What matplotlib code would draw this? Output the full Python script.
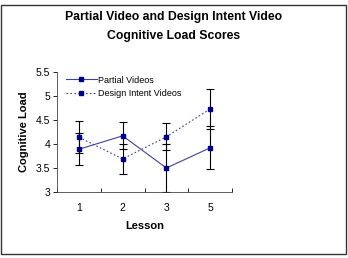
import matplotlib
matplotlib.use("Agg")
import matplotlib.pyplot as plt
from matplotlib.patches import Rectangle
from matplotlib.lines import Line2D
import numpy as np

plt.rcParams['font.family'] = ['Liberation Sans', 'DejaVu Sans']

lessons = ["1", "2", "3", "5"]
partial = [3.89, 4.17, 3.50, 3.92]
partial_err = [0.33, 0.28, 0.49, 0.45]
design = [4.14, 3.69, 4.15, 4.73]
design_err = [0.33, 0.32, 0.28, 0.42]
yticks = [3, 3.5, 4, 4.5, 5, 5.5]

W, H = 348, 258
fig = plt.figure(figsize=(W/100, H/100), dpi=100)
ax = fig.add_axes([57/W, 1-192/H, 175/W, 120/H])

x = np.arange(len(lessons))
line_col = "#4040a0"
mk_col = "#000080"
dot = (0, (1.5, 2))
ax.errorbar(x, partial, yerr=partial_err, color=line_col, lw=0.8, ls='-',
            marker='s', ms=3.5, mfc=mk_col, mec=mk_col,
            ecolor='black', elinewidth=0.8, capsize=3, capthick=0.8)
ax.errorbar(x, design, yerr=design_err, color=line_col, lw=0.8, ls=dot,
            marker='s', ms=3.5, mfc=mk_col, mec=mk_col,
            ecolor='black', elinewidth=0.8, capsize=3, capthick=0.8)

ax.set_xlim(-0.5, len(lessons)-0.5)
ax.set_ylim(3, 5.5)
ax.set_yticks(yticks)
ax.set_yticklabels([f"{v:g}" for v in yticks], fontsize=7.5)
ax.set_xticks(x)
ax.set_xticklabels(lessons, fontsize=7.5)
ax.set_xticks(np.arange(len(lessons)+1)-0.5, minor=True)
ax.tick_params(axis='x', which='major', length=0, pad=8)
ax.tick_params(axis='x', which='minor', length=3, direction='in', width=0.6)
ax.tick_params(axis='y', length=3, direction='out', width=0.6, pad=2)
for s in ['top', 'right']:
    ax.spines[s].set_visible(False)
for s in ['left', 'bottom']:
    ax.spines[s].set_linewidth(0.6)
    ax.spines[s].set_color('#444444')

ax.set_ylabel("Cognitive Load", fontsize=8, fontweight='bold', labelpad=5)
ax.set_xlabel("Lesson", fontsize=8, fontweight='bold', labelpad=6)

handles = [
    Line2D([], [], color=line_col, lw=0.8, ls='-', marker='s', ms=3.5, mfc=mk_col, mec=mk_col),
    Line2D([], [], color=line_col, lw=0.8, ls=dot, marker='s', ms=3.5, mfc=mk_col, mec=mk_col),
]
ax.legend(handles, ["Partial Videos", "Design Intent Videos"],
          loc='upper left', bbox_to_anchor=(0.03, 1.0), frameon=False,
          fontsize=6.5, handlelength=3.4, handletextpad=0.2,
          labelspacing=0.45, borderaxespad=0)

fig.text(0.5, 1-17/H, "Partial Video and Design Intent Video",
         ha='center', va='center', fontsize=8.8, fontweight='bold')
fig.text(0.5, 1-36/H, "Cognitive Load Scores",
         ha='center', va='center', fontsize=8.8, fontweight='bold')

fig.patches.append(Rectangle((1/W, 1-254/H), 345/W, 249/H, transform=fig.transFigure,
                             fill=False, ec='#333333', lw=1.0))

fig.savefig("out.png", dpi=100)
